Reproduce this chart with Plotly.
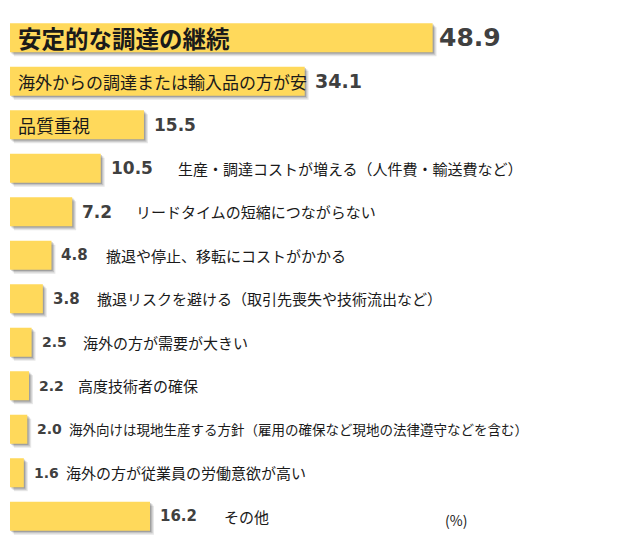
import plotly.graph_objects as go

# 回答項目と割合（%）
labels = [
    "安定的な調達の継続",
    "海外からの調達または輸入品の方が安",
    "品質重視",
    "生産・調達コストが増える（人件費・輸送費など）",
    "リードタイムの短縮につながらない",
    "撤退や停止、移転にコストがかかる",
    "撤退リスクを避ける（取引先喪失や技術流出など）",
    "海外の方が需要が大きい",
    "高度技術者の確保",
    "海外向けは現地生産する方針（雇用の確保など現地の法律遵守などを含む）",
    "海外の方が従業員の労働意欲が高い",
    "その他",
]
values = [48.9, 34.1, 15.5, 10.5, 7.2, 4.8, 3.8, 2.5, 2.2, 2.0, 1.6, 16.2]
inside = [True, True, True] + [False] * 9  # 上位3件はバーの中にラベル

# 見た目の調整
value_size = [25, 19, 17, 17, 17, 15, 15, 14, 14, 14, 14, 15]
label_size = [23.5, 17, 18, 15, 15, 15, 15, 15, 15, 13.5, 15, 15]
label_gap = [0, 0, 0, 75, 62, 53, 52, 49, 47, 40, 40, 72]

BAR = "#FFD95B"
FONT_JP = "Noto Sans CJK JP"
FONT_NUM = "DejaVu Sans"
W = 0.667

fig = go.Figure()

# ぼかし風の影
for shift_x, shift_y, alpha in [(0.45, 0.09, 0.10), (0.3, 0.06, 0.14), (0.15, 0.03, 0.18)]:
    fig.add_trace(go.Bar(
        y=labels, x=values, base=shift_x, orientation="h",
        width=W, offset=-W / 2 + shift_y,
        marker=dict(color=f"rgba(0,0,0,{alpha})", line=dict(width=0)),
        hoverinfo="skip", showlegend=False,
    ))

fig.add_trace(go.Bar(
    y=labels, x=values, orientation="h",
    width=W, offset=-W / 2,
    marker=dict(color=BAR, line=dict(width=0)),
    showlegend=False,
))

for i, (lab, v) in enumerate(zip(labels, values)):
    vs = f"<b>{v:.1f}</b>"
    gap = 4 if i == 0 else 8
    fig.add_annotation(
        x=v, y=lab, text=vs, xanchor="left", showarrow=False, xshift=gap,
        font=dict(family=FONT_NUM, size=value_size[i], color="#404040"),
    )
    if inside[i]:
        txt = f"<b>{lab}</b>" if i == 0 else lab
        fig.add_annotation(
            x=0, y=lab, text=txt, xanchor="left", showarrow=False, xshift=6,
            font=dict(family=FONT_JP, size=label_size[i], color="#1a1a1a"),
        )
    else:
        fig.add_annotation(
            x=v, y=lab, text=lab, xanchor="left", showarrow=False, xshift=label_gap[i],
            font=dict(family=FONT_JP, size=label_size[i], color="#1a1a1a"),
        )

fig.add_annotation(
    xref="paper", yref="paper", x=0.737, y=0.034, xanchor="center", yanchor="middle",
    text="(%)", showarrow=False,
    font=dict(family=FONT_JP, size=14, color="#1a1a1a"),
)

fig.update_layout(
    width=631, height=558,
    margin=dict(l=2, r=24, t=8, b=28),
    barmode="overlay",
    plot_bgcolor="white", paper_bgcolor="white",
    xaxis=dict(range=[0, 70], visible=False, fixedrange=True),
    yaxis=dict(autorange="reversed", visible=False, fixedrange=True),
)

fig.write_html("out.html")
